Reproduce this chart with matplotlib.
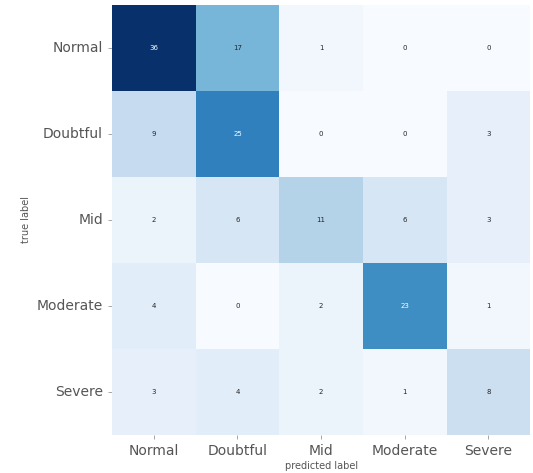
import numpy as np
import matplotlib
matplotlib.use("Agg")
import matplotlib.pyplot as plt
import seaborn as sns

# class names and confusion matrix (rows = true, cols = predicted)
labels = ["Normal", "Doubtful", "Mid", "Moderate", "Severe"]
row_normal = [36, 17, 1, 0, 0]
row_doubtful = [9, 25, 0, 0, 3]
row_mid = [2, 6, 11, 6, 3]
row_moderate = [4, 0, 2, 23, 1]
row_severe = [3, 4, 2, 1, 8]

cm = np.array([row_normal, row_doubtful, row_mid, row_moderate, row_severe])

sns.set_style("white")
fig = plt.figure(figsize=(5.33, 4.73), dpi=100)
ax = fig.add_axes([0.21, 0.08, 0.785, 0.91])
sns.heatmap(cm, annot=True, fmt="d", cmap="Blues", cbar=False,
            annot_kws={"fontsize": 5}, ax=ax,
            xticklabels=labels, yticklabels=labels)
ax.tick_params(axis="both", colors="#999999", labelsize=10, length=3,
               width=0.6, labelcolor="#555555", bottom=True, left=True)
ax.tick_params(axis="y", rotation=0)
ax.set_xlabel("predicted label", fontsize=7, color="#555555", labelpad=2)
ax.set_ylabel("true label", fontsize=7, color="#555555", labelpad=4)
fig.savefig("out.png", dpi=100)
